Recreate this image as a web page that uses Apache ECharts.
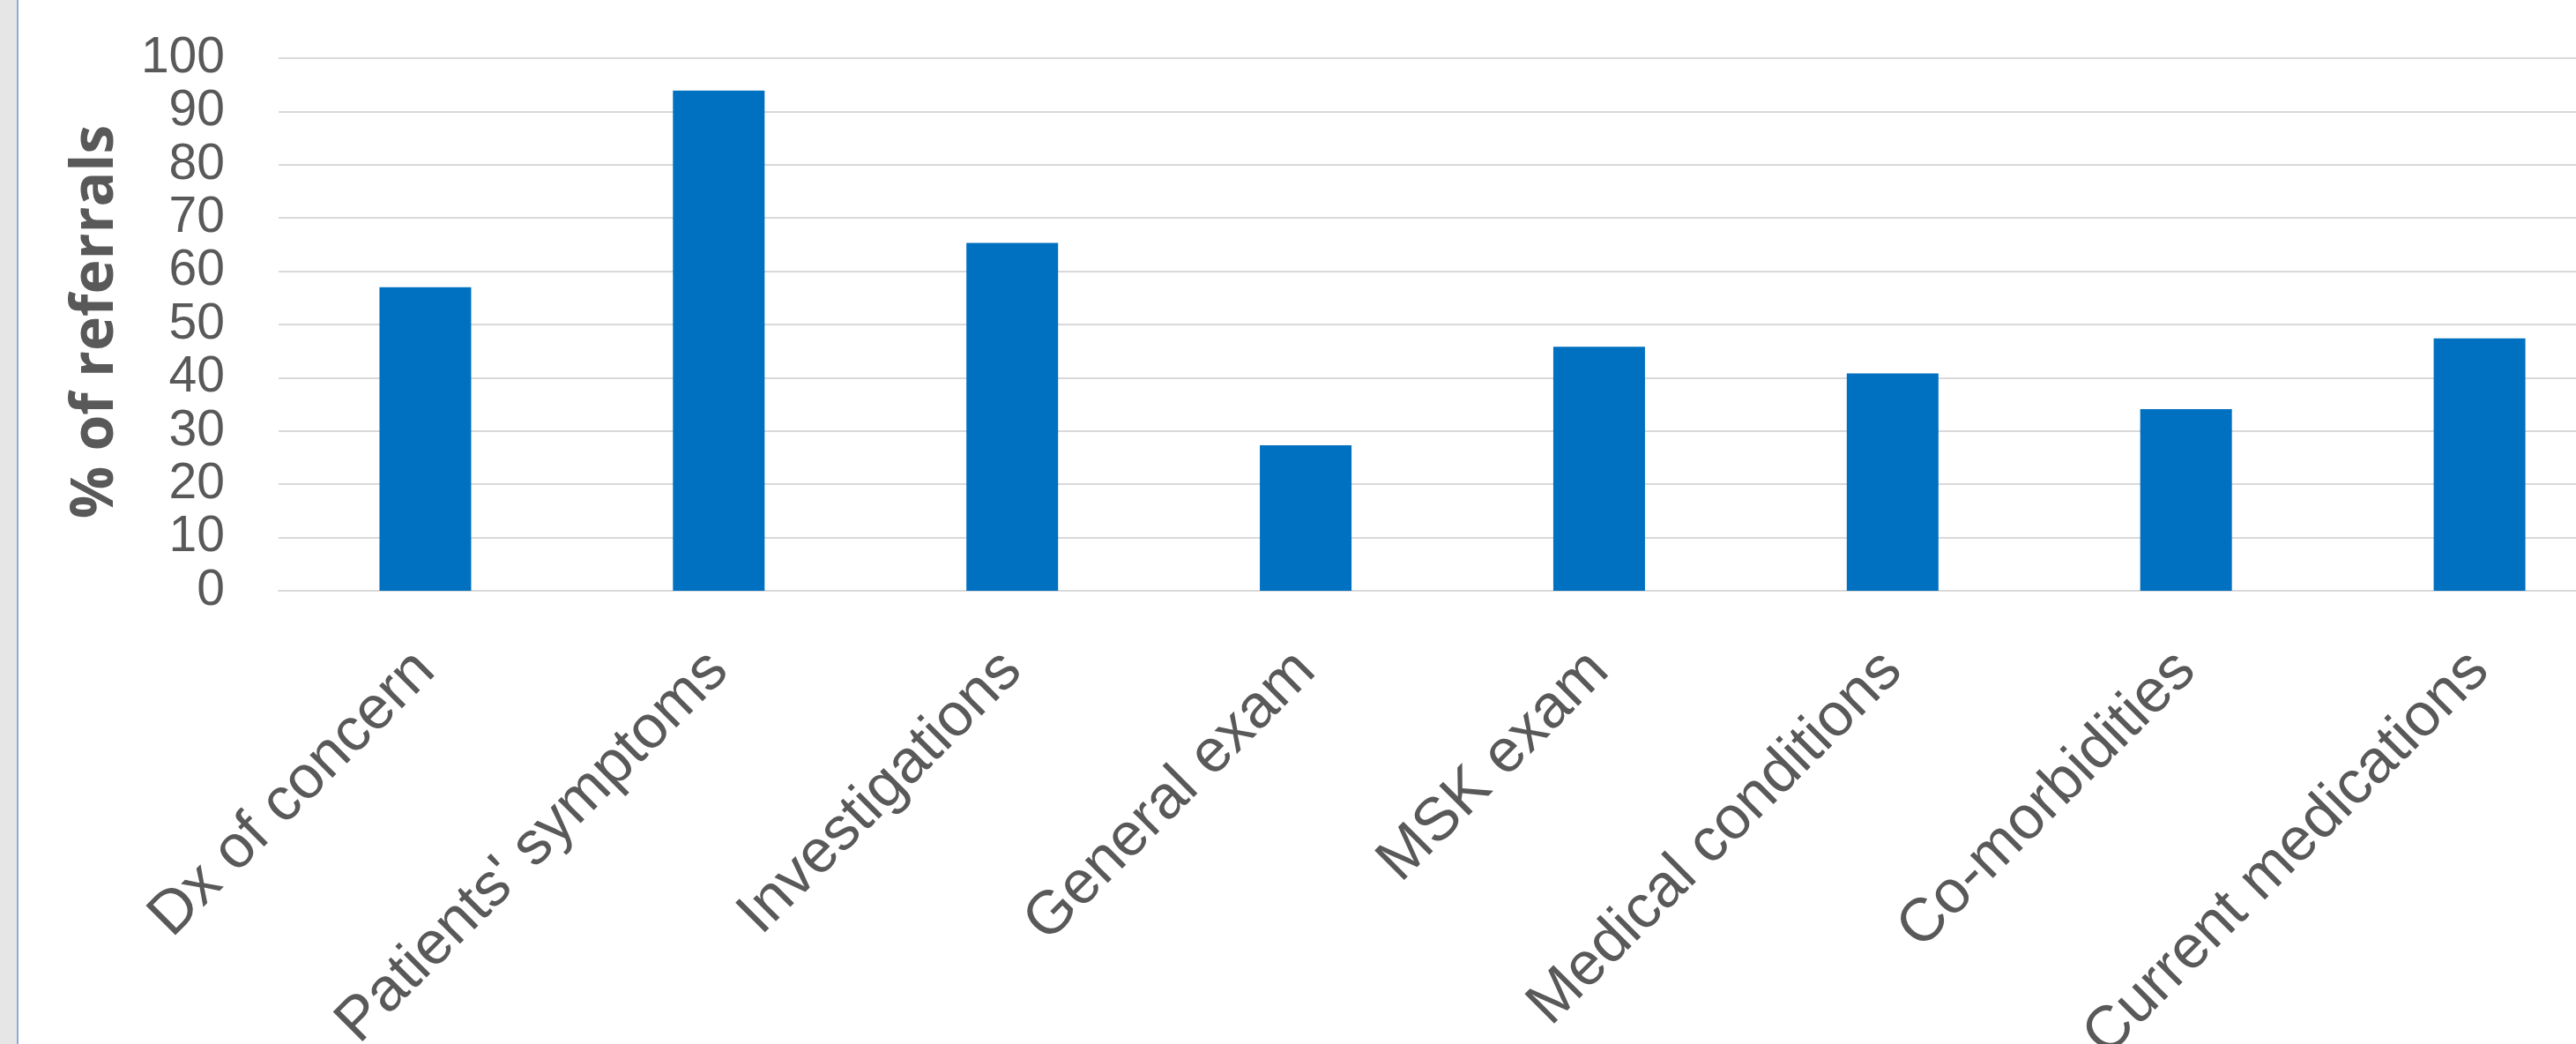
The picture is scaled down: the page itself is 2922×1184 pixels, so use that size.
<!DOCTYPE html>
<html>
<head>
<meta charset="utf-8">
<script src="https://cdn.jsdelivr.net/npm/echarts@6/dist/echarts.min.js"></script>
<style>
html,body{margin:0;padding:0;background:#fff;overflow:hidden;width:2922px;height:1184px;}
#chart{width:2979px;height:1184px;}
</style>
</head>
<body>
<div id="chart"></div>
<script>
const categories = ["Dx of concern", "Patients' symptoms", "Investigations", "General exam", "MSK exam", "Medical conditions", "Co-morbidities", "Current medications"];
const values = [57.0, 93.9, 65.3, 27.3, 45.8, 40.8, 34.1, 47.4];
const yTicks = [0, 10, 20, 30, 40, 50, 60, 70, 80, 90, 100];
const yTitle = "% of referrals";

const chart = echarts.init(document.getElementById('chart'), null, {renderer: 'canvas'});
chart.setOption({
  backgroundColor: '#ffffff',
  animation: false,
  graphic: [
    {type: 'rect', left: 0, top: 0, shape: {width: 19, height: 1184}, style: {fill: '#e6e6e6'}, z: 10},
    {type: 'rect', left: 19, top: 0, shape: {width: 2, height: 1184}, style: {fill: '#8eaadb'}, z: 10},
    {type: 'text', x: 109, y: 365, rotation: Math.PI / 2,
     style: {text: yTitle, fill: '#595959', font: 'bold 66px "Open Sans"', align: 'center', verticalAlign: 'middle'}, z: 10}
  ],
  grid: {left: 316, top: 66, right: 0, bottom: 514, outerBoundsMode: 'none', containLabel: false},
  xAxis: {
    type: 'category',
    data: categories,
    axisLine: {show: true, lineStyle: {color: '#d9d9d9', width: 2}},
    axisTick: {show: false},
    axisLabel: {interval: 0, rotate: 45, margin: 80, color: '#595959', fontFamily: 'Liberation Sans', fontSize: 69}
  },
  yAxis: {
    type: 'value',
    min: yTicks[0],
    max: yTicks[yTicks.length - 1],
    interval: 10,
    axisLine: {show: false},
    axisTick: {show: false},
    splitLine: {lineStyle: {color: '#d9d9d9', width: 2}},
    axisLabel: {margin: 61, color: '#595959', fontFamily: 'Liberation Sans', fontSize: 57}
  },
  series: [{
    type: 'bar',
    data: values,
    barWidth: 104,
    itemStyle: {color: '#0070c0'}
  }]
});
</script>
</body>
</html>
